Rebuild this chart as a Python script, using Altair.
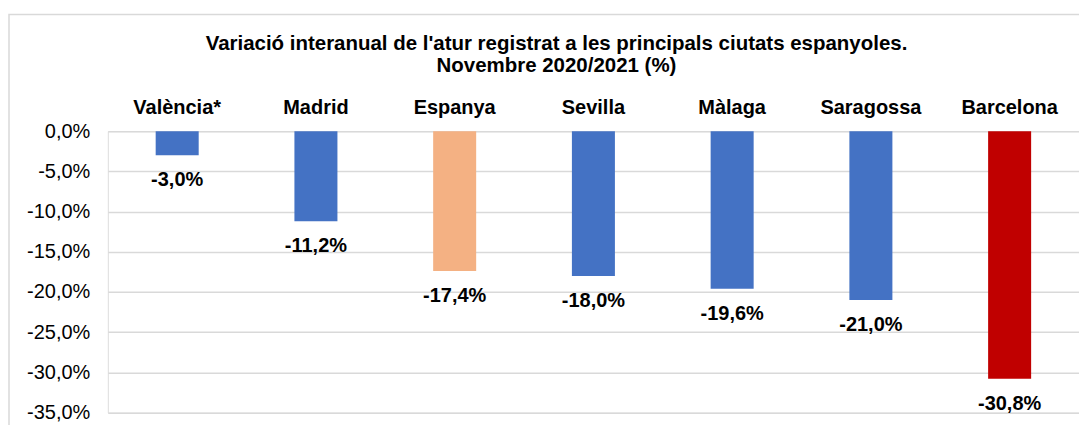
import altair as alt
import pandas as pd

cities = ["València*", "Madrid", "Espanya", "Sevilla", "Màlaga", "Saragossa", "Barcelona"]
values = [-3.0, -11.2, -17.4, -18.0, -19.6, -21.0, -30.8]
bar_colors = ["#4472C4", "#4472C4", "#F4B183", "#4472C4", "#4472C4", "#4472C4", "#C00000"]
y_ticks = [0, -5, -10, -15, -20, -25, -30, -35]

df = pd.DataFrame({"city": cities, "value": values})

FONT = "Liberation Sans"
FMT = "replace(replace(format(datum.value, '.1f'), '.', ','), '\u2212', '-') + '%'"

x_enc = alt.X(
    "city:N",
    sort=None,
    scale=alt.Scale(paddingInner=0.69, paddingOuter=0.345),
    axis=alt.Axis(
        orient="top", title=None, domain=False, ticks=False,
        labelFont=FONT, labelFontSize=20, labelFontWeight="bold",
        labelColor="#000000", labelPadding=14, labelAngle=0,
    ),
)
y_enc = alt.Y(
    "value:Q",
    scale=alt.Scale(domain=[-35, 0], nice=False),
    axis=alt.Axis(
        title=None, values=y_ticks, domain=False, ticks=False,
        labelExpr=FMT,
        labelFont=FONT, labelFontSize=20, labelColor="#000000",
        labelPadding=18, gridColor="#D9D9D9", gridWidth=1.5,
    ),
)

bars = alt.Chart(df).mark_bar().encode(
    x=x_enc,
    y=y_enc,
    color=alt.Color("city:N", sort=None,
                    scale=alt.Scale(domain=cities, range=bar_colors), legend=None),
)

labels = alt.Chart(df).mark_text(
    font=FONT, fontSize=20, fontWeight="bold", color="#000000",
    baseline="middle", dy=25,
).encode(
    x=alt.X("city:N", sort=None),
    y=alt.Y("value:Q"),
    text=alt.Text("label:N"),
).transform_calculate(label=FMT)

border = alt.Chart(alt.Data(values=[{}])).mark_rect(
    fill=None, stroke="#D9D9D9", strokeWidth=1.5, clip=False
).encode(
    x=alt.value(-99), x2=alt.value(1000),
    y=alt.value(-117), y2=alt.value(320),
)

chart = alt.layer(border, bars, labels).properties(
    width=973,
    height=282,
    padding={"left": 100, "top": 123, "right": 0, "bottom": 12},
    autosize=alt.AutoSizeParams(type="none"),
    title=alt.TitleParams(
        text=["Variació interanual de l'atur registrat a les principals ciutats espanyoles.",
              "Novembre 2020/2021  (%)"],
        font=FONT, fontSize=20.5, fontWeight="bold",
        color="#000000", anchor="middle", dx=-37, offset=0, dy=63, lineHeight=22,
    ),
).configure_view(stroke=None).configure(background="white")

chart.save("out.html", embed_options={"renderer": "svg", "actions": False})
